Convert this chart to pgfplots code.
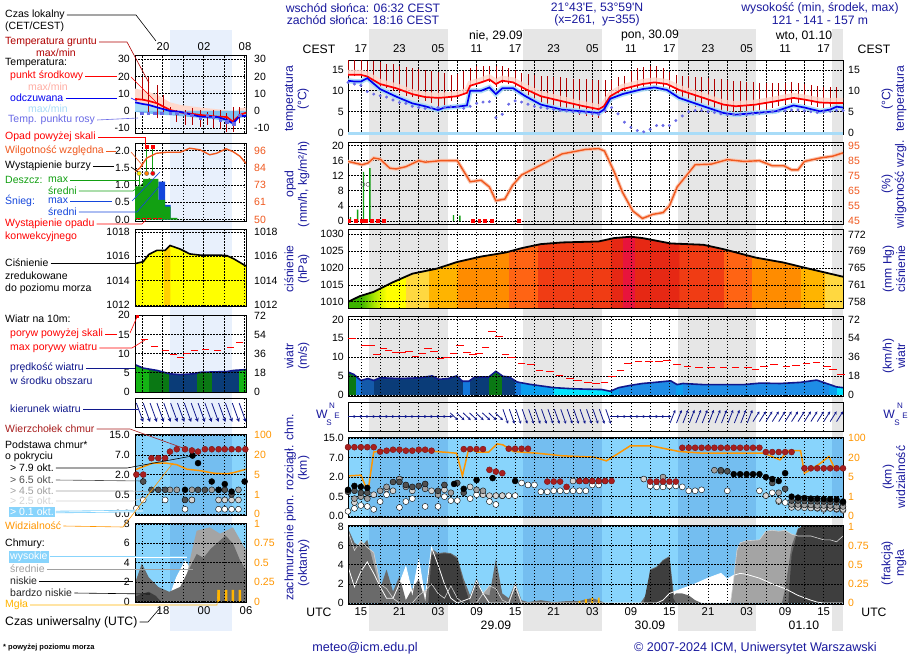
\documentclass[border=0pt]{standalone}
\usepackage{pgfplots}
\pgfplotsset{compat=1.18}
\usepackage{pgfplotstable}
\usepackage{fontspec}
\setmainfont{Liberation Sans}
\usetikzlibrary{arrows.meta}
\newcommand\fs{\fontsize{10.5}{12}\selectfont}
\newcommand\ft{\fontsize{12.2}{13.5}\selectfont}
\newcommand\fn{\fontsize{11.3}{13}\selectfont}

\definecolor{ttl}{HTML}{1A1A9E}
\definecolor{gtred}{HTML}{B00000}
\definecolor{tred}{HTML}{FF0000}
\definecolor{tblue}{HTML}{0000F0}
\definecolor{tpink}{HTML}{FFD8CC}
\definecolor{tlb}{HTML}{A8DCF8}
\definecolor{tlb2}{HTML}{7CC0F0}
\definecolor{dewc}{HTML}{6A6AE6}
\definecolor{rhc}{HTML}{F0581E}
\definecolor{rainc}{HTML}{12A012}
\definecolor{snowc}{HTML}{1446DC}
\definecolor{navy}{HTML}{10188C}
\definecolor{topc}{HTML}{A81E1E}
\definecolor{visc}{HTML}{FF9600}
\definecolor{fogc}{HTML}{FFB400}
\definecolor{skyd}{HTML}{88D4FC}
\definecolor{skyn}{HTML}{74BEF0}
\definecolor{nightg}{HTML}{E6E6E6}
\definecolor{lband}{HTML}{E8F0FC}
\definecolor{c2}{HTML}{505050}
\definecolor{c3}{HTML}{A0A0A0}
\definecolor{c4}{HTML}{D4D4D4}
\definecolor{cvl}{HTML}{3E3E3E}
\definecolor{clo}{HTML}{6A6A6A}
\definecolor{cmi}{HTML}{A4A4A4}
\definecolor{pg1}{HTML}{3CB400}
\definecolor{pg2}{HTML}{A8E600}
\definecolor{pg3}{HTML}{FFFF00}
\definecolor{pg4}{HTML}{FFD840}
\definecolor{pg5}{HTML}{FFB400}
\definecolor{pg6}{HTML}{FF8C00}
\definecolor{pg7}{HTML}{FF6414}
\definecolor{pg8}{HTML}{F03C14}
\definecolor{pg9}{HTML}{E62814}
\definecolor{pg10}{HTML}{E8143C}
\definecolor{lpo}{HTML}{FFD000}
\definecolor{wg}{HTML}{0A7814}
\definecolor{wb}{HTML}{1478DC}
\definecolor{wm}{HTML}{145AAA}
\definecolor{wn}{HTML}{0A3C78}
\definecolor{wl}{HTML}{0AA0F0}
\definecolor{wc}{HTML}{00E4FF}
\definecolor{wb2}{HTML}{1E8CE6}
\definecolor{lg1}{HTML}{14B414}

\pgfdeclarehorizontalshading{pshade}{100bp}{color(0bp)=(pg1); color(26.3bp)=(pg1); color(27.6bp)=(pg2); color(28.9bp)=(pg3);
color(30.8bp)=(pg3); color(30.85bp)=(pg4); color(33.1bp)=(pg4); color(33.15bp)=(pg5);
color(36bp)=(pg5); color(36.05bp)=(pg6); color(41.2bp)=(pg6); color(41.25bp)=(pg7);
color(44.1bp)=(pg7); color(44.15bp)=(pg8); color(51.5bp)=(pg8); color(51.55bp)=(pg9);
color(52.7bp)=(pg9); color(52.75bp)=(pg10); color(53.9bp)=(pg10); color(53.95bp)=(pg9);
color(58.4bp)=(pg9); color(58.45bp)=(pg8); color(62.9bp)=(pg8); color(62.95bp)=(pg7);
color(65.75bp)=(pg7); color(65.8bp)=(pg6); color(70.7bp)=(pg6); color(70.75bp)=(pg5);
color(73.1bp)=(pg5); color(73.15bp)=(pg4); color(100bp)=(pg4)}
\pgfdeclarehorizontalshading{wshade}{100bp}{color(0bp)=(wg); color(25.71bp)=(wg);
color(25.72bp)=(wb); color(26.3bp)=(wb); color(26.31bp)=(wm); color(27.6bp)=(wm);
color(27.61bp)=(wn); color(36.55bp)=(wn); color(36.56bp)=(wb); color(37.27bp)=(wb);
color(37.28bp)=(wn); color(39.15bp)=(wn); color(39.16bp)=(wg); color(40.51bp)=(wg);
color(40.52bp)=(wn); color(41.81bp)=(wn); color(41.82bp)=(wb); color(42.39bp)=(wb);
color(42.4bp)=(wl); color(45.77bp)=(wl); color(45.78bp)=(wc); color(51.48bp)=(wc);
color(51.49bp)=(wl); color(52.32bp)=(wl); color(52.33bp)=(wb2); color(58.1bp)=(wb2);
color(58.11bp)=(wl); color(58.75bp)=(wl); color(58.76bp)=(wb2); color(73.55bp)=(wb2);
color(73.56bp)=(wl); color(74.33bp)=(wl); color(74.34bp)=(wc); color(100bp)=(wc)}
\pgfdeclarehorizontalshading{lpshade}{100bp}{color(0bp)=(pg3); color(37.9bp)=(pg3); color(38bp)=(lpo); color(40.7bp)=(lpo); color(40.8bp)=(pg3); color(100bp)=(pg3)}
\pgfdeclarehorizontalshading{lwshade}{100bp}{color(0bp)=(lg1); color(31.17bp)=(lg1); color(31.2bp)=(wg); color(40.1bp)=(wg); color(40.15bp)=(wn); color(52.78bp)=(wn); color(52.8bp)=(wg); color(59.57bp)=(wg); color(59.6bp)=(wn); color(71.6bp)=(wn); color(71.65bp)=(lg1); color(100bp)=(lg1)}

\pgfplotsset{
  /pgf/number format/assume math mode=true,
  /pgf/number format/1000 sep={},
  bs/.style={scale only axis, anchor=north west, major tick length=0pt,
     grid style={black, line width=0.55pt, dash pattern=on 1.5pt off 1.5pt},
     xticklabels={}, xtick={0,3,...,72}},
  mp/.style={bs, width=495pt, xmin=-2, xmax=75, xmajorgrids, ymajorgrids,
     axis line style={black, line width=1pt},
     yticklabel style={font=\fs, inner sep=0pt, xshift=-4pt}},
  rp/.style={bs, width=495pt, xmin=-2, xmax=75, axis x line=none, axis y line*=right,
     axis line style={draw=none}, yticklabel style={font=\fs, inner sep=0pt, xshift=5pt}},
  lp/.style={bs, width=111pt, xmin=14, xmax=30.2, xtick={15,18,...,30}, xmajorgrids, ymajorgrids,
     axis line style={black, line width=0.8pt},
     yticklabel style={font=\fs, inner sep=0pt, xshift=-5pt}},
  lrp/.style={bs, width=111pt, xmin=14, xmax=30.2, axis x line=none, axis y line*=right,
     axis line style={draw=none}, yticklabel style={font=\fs, inner sep=0pt, xshift=8pt}},
}

% ---------------- main data ----------------
\pgfplotstableread{
h mid feel
-2 13.8 12.4
-1 13.8 12.2
0 13.8 12.2
1 13.4 13.0
3 11.6 10.4
5.5 10.6 8.6
8 9.2 7.0
10 8.5 6.3
12 8.3 5.4
13 8.4 6.0
15 8.7 6.2
16.5 9.5 6.5
17 11.2 10.0
18.7 12.0 10.0
20 12.7 10.8
21 11.6 9.2
22 12.4 10.6
23.7 12.0 10.6
25.6 10.4 8.7
28 8.7 6.7
31.3 7.5 5.5
34.4 6.4 5.1
37 5.6 4.7
37.8 6.3 5.5
38.8 8.7 8.1
40.7 10.4 9.2
43.8 11.6 10.4
45.7 12.0 10.8
47.6 11.6 10.2
49.5 10.2 8.3
53.3 8.3 6.3
56.4 6.7 4.7
58.3 6.3 4.3
61.4 6.7 4.7
64.5 7.5 5.1
67.3 8.3 6.5
69 7.9 6.0
71.4 7.2 5.1
73 7.1 5.5
74 7.1 6.2
75 7.1 6.0
}\tdata
\pgfplotstableread{
h lo hi
-2 13.5 17.4
-1 13.5 17.4
0 13.5 17.3
1 13.0 17.2
2 12.0 17.0
3 11.2 16.8
4 10.6 16.5
5 10.0 16.3
6 9.4 16.0
7 8.8 15.7
8 8.4 15.4
9 8.0 15.2
10 7.6 15.0
11 7.2 14.8
12 5.2 14.5
13 5.8 14.3
14 7.5 13.8
15 8.5 14.0
16 9.0 14.8
17 11.0 15.5
18 11.5 15.8
19 12.0 16.0
20 12.2 16.0
21 11.0 15.8
22 11.8 15.8
23 11.5 15.5
24 11.0 15.0
25 9.5 14.2
26 8.5 14.0
27 7.8 13.8
28 7.0 13.6
29 6.5 13.5
30 6.0 13.4
31 5.5 13.2
32 5.0 13.0
33 4.6 12.9
34 4.3 12.8
35 4.0 12.7
36 3.8 12.6
37 3.5 12.5
38 4.8 12.5
39 7.5 12.5
40 9.0 13.2
41 9.5 13.5
42 10.0 14.8
43 10.5 15.4
44 10.5 15.6
45 10.6 15.8
46 10.5 16.0
47 10.2 15.4
48 9.5 14.5
49 8.5 13.8
50 7.5 13.6
51 6.8 13.5
52 6.2 13.4
53 5.7 13.2
54 5.2 13.0
55 4.8 12.8
56 4.5 12.7
57 4.2 12.5
58 4.0 12.4
59 4.0 12.3
60 4.0 12.2
61 4.2 12.0
62 4.8 11.9
63 5.5 11.8
64 6.0 11.8
65 6.3 11.8
66 6.8 11.9
67 7.2 12.0
68 7.0 11.8
69 6.8 11.5
70 6.5 11.3
71 6.2 11.2
72 5.8 11.0
73 5.5 11.0
74 5.6 11.0
}\gtdata
\pgfplotstableread{
h td
-2 12.0
-1 11.6
0 11.3
1 9.8
2 9.2
3 8.8
4 8.5
5 7.8
6 7.2
7 7.0
8 6.3
9 6.0
10 5.8
11 6.0
12 6.0
13 6.0
14 6.2
15 6.2
16 5.8
17 6.3
18 7.0
19 7.3
20 7.4
21 3.6
22 4.4
23 6.8
24 7.6
25 7.3
26 6.8
27 6.3
28 6.0
29 5.8
30 5.6
31 5.3
32 5.2
33 5.0
34 4.8
35 4.8
36 4.5
37 4.4
38 5.2
39 6.0
40 4.5
41 2.5
42 1.3
43 0.5
44 0.2
45 0.8
46 1.7
47 1.7
48 1.7
49 2.9
50 4.0
51 5.0
52 5.3
53 5.3
54 5.0
55 4.8
56 4.5
57 4.3
58 4.3
59 4.3
60 4.3
61 4.5
62 4.6
63 4.8
64 5.0
65 5.2
66 5.2
67 5.4
68 5.4
69 5.2
70 5.0
71 4.8
72 5.0
73 5.1
74 5.3
75 5.3
}\dpdata
\pgfplotstableread{
h rh
-2 84.5
0.2 82.3
1.1 83.4
2 86.8
3 86
4.5 80
5.5 79.5
7 81
9 85
10 84
12.4 85
15 85
17 71
18.7 72
20 67.5
21 58.4
22.4 59.5
23.6 68.6
25 75.5
27.5 81
31.3 89.5
35 92.5
37 93
37.9 91.4
39.4 77.7
40.7 64
42.3 51.6
43.8 46.6
45.4 49.3
47 50.5
48 55
49.2 67.5
52 82.3
54.5 82.7
57 85.7
59.6 84.5
62 85
64 81.6
65.8 81.6
67 78.9
68 78.9
69 84.5
71.5 86.8
73.4 88
75 90.2
}\rhdata
\pgfplotstableread{
h p
-1.6 1.0
-0.5 3.0
0.4 13
1.4 14
14.4 1.5
15.4 1.4
}\precip
\pgfplotstableread{
h c
-1.8 0
-0.8 0
0.1 0
0.8 0
1.7 0
2.6 0
3.6 0
17.4 0
18.4 0
19.3 0
20.4 0
24.5 0
}\convdata
\pgfplotstableread{
h p
-2 1009.9
-0.2 1011.6
2 1012.9
4.8 1015.6
8 1018.3
11.8 1019.8
15 1021.8
18.7 1023.4
22.5 1024.6
25 1025.9
28 1027.1
31.3 1027.6
37 1027.9
39.4 1028.9
42 1029.3
43.8 1028.9
48.2 1027.3
53.3 1026.9
56.4 1025.6
61.4 1023.1
65.8 1021.6
69 1020.1
75 1017.4
}\pdata
\pgfplotstableread{
h v
-2 6.1
-1.1 5.5
0 3.9
1.1 4.4
2 3.9
3 4.6
6.1 4.4
9.2 4.6
11.1 5.1
12.1 4.2
13.6 4.4
14.9 5.1
15.8 3.7
16.8 3.7
17.7 4.8
19.9 4.8
21 6.3
22.1 5.0
23.1 4.8
24.3 3.5
26.2 2.9
30 2.0
32.5 1.75
35 1.6
37.5 1.5
38.8 1.05
40.1 2.0
41.9 2.6
43.8 3.1
46.4 3.5
48.2 3.8
49.2 2.8
50.1 3.1
53.3 2.8
56.4 2.8
59.6 2.8
62.1 3.2
65.2 3.1
68.4 3.4
70.9 4.0
72.8 2.9
74 2.2
75 2.0
}\wdata
\pgfplotstableread{
h g
-1.4 14.9
0.6 13.2
1.6 13.2
2.5 10.8
3.5 12.3
4.3 11.7
5.5 11.3
6.4 11.3
7.5 11.5
8.5 10.3
9.6 11.0
10.4 12.3
11.4 11.5
12.4 9.7
13.3 9.9
14.4 10.9
15.4 13.0
16.5 11.3
17.4 10.8
18.4 11.0
19.4 12.5
20.4 16.7
21.5 15.6
22.5 10.8
23.5 10.0
25 8.3
26.5 8.0
27.8 6.6
29.4 6.2
30.9 5.2
32.5 4.4
33.8 4.0
35.3 3.4
36.6 3.0
37.9 3.4
39.1 5.0
40.4 6.5
41.6 8.4
43.2 8.9
44.8 8.9
46.4 8.9
47.6 9.2
49.2 8.2
50.8 7.7
52.6 7.4
54.5 7.2
56.4 7.4
58.3 7.4
60.2 7.2
61.4 6.9
62.7 7.5
64.3 8.0
66.2 7.6
67.7 7.8
69.3 8.4
70.9 8.7
72.5 7.6
73.4 6.9
74.7 5.5
}\gust
\pgfplotstableread{
x y u v
-2.3 0 1.6 0
-1.3 0 1.6 0
-0.3 0 1.6 0
0.7 0 1.6 0
1.7 0 1.6 0
2.7 0 1.6 0
3.7 0 1.6 0
4.7 0 1.6 0
5.7 0 1.6 0
6.7 0 1.6 0
7.7 0 1.6 0
8.7 0 1.6 0
9.7 0 1.6 0
10.7 0 1.6 0
11.7 0 1.6 0
12.7 0 1.6 0
13.9 0.25 1.2 -0.5
14.9 0.25 1.2 -0.5
15.9 0.25 1.2 -0.5
16.9 0.25 1.2 -0.5
17.9 0.25 1.2 -0.5
18.9 0.25 1.2 -0.5
19.9 0.25 1.2 -0.5
20.9 0.25 1.2 -0.5
22.1 0.5 0.8 -1.0
23.1 0.5 0.8 -1.0
24.1 0.5 0.8 -1.0
25.1 0.5 0.8 -1.0
26.1 0.5 0.8 -1.0
27.1 0.5 0.8 -1.0
28.1 0.5 0.8 -1.0
29.1 0.5 0.8 -1.0
30.1 0.5 0.8 -1.0
31.1 0.5 0.8 -1.0
32.1 0.5 0.8 -1.0
33.1 0.5 0.8 -1.0
34.1 0.5 0.8 -1.0
35.1 0.5 0.8 -1.0
36.1 0.5 0.8 -1.0
37.1 0.5 0.8 -1.0
38.1 0.5 0.8 -1.0
38.7 0 1.6 0
39.7 0 1.6 0
40.7 0 1.6 0
41.7 0 1.6 0
42.7 0 1.6 0
43.7 0 1.6 0
44.7 0 1.6 0
45.7 0 1.6 0
46.7 0 1.6 0
48.1 -0.45 0.8 0.9
49.1 -0.45 0.8 0.9
50.1 -0.45 0.8 0.9
51.1 -0.45 0.8 0.9
52.1 -0.45 0.8 0.9
53.1 -0.45 0.8 0.9
54.1 -0.45 0.8 0.9
55.1 -0.45 0.8 0.9
56.1 -0.45 0.8 0.9
57.1 -0.45 0.8 0.9
58.1 -0.45 0.8 0.9
59.1 -0.45 0.8 0.9
60.1 -0.45 0.8 0.9
61.0 -0.35 1.0 0.7
62.0 -0.35 1.0 0.7
63.0 -0.35 1.0 0.7
64.0 -0.35 1.0 0.7
65.0 -0.35 1.0 0.7
66.0 -0.35 1.0 0.7
67.0 -0.35 1.0 0.7
68.0 -0.35 1.0 0.7
69.0 -0.35 1.0 0.7
70.0 -0.35 1.0 0.7
71.0 -0.35 1.0 0.7
72.0 -0.35 1.0 0.7
73.0 -0.35 1.0 0.7
74.0 -0.35 1.0 0.7
}\dirdata
% cloud panel (levels 0..4 = 0, 0.5, 2, 7, 15 km; visibility 0..4 = 0, 1, 5, 20, 100 km)
\pgfplotstableread{
h L
-2 3.53
-1 3.53
0 3.53
1 3.53
2 3.53
3 3.3
4 3.35
5 3.4
6 3.4
7 3.35
8 3.35
9 3.4
10 3.4
11 3.35
16 3.43
17 3.43
18 3.43
19 3.43
20 2.37
21 2.28
22 2.2
23 3.45
24 3.45
25 3.45
26 3.45
29 1.77
30 1.77
31 1.77
32 1.5
34 1.8
35 1.8
36 1.8
37 1.8
38 1.8
39 1.8
45 1.77
46 1.77
47 1.77
48 1.77
49 1.77
50 3.5
51 3.5
52 3.5
53 3.5
54 3.5
55 3.5
56 3.5
57 3.5
58 3.5
59 3.5
60 3.5
61 3.5
62 3.5
63 3.28
64 3.28
65 3.28
66 3.28
67 3.28
69 2.45
70 2.45
71 2.45
72 2.45
73 2.45
74 2.45
75 2.45
}\topdata
\pgfplotstableread{
h L
-2 2.06
0 2.1
1.1 1.25
2 3.28
3.6 3.36
6.1 3.4
9.9 3.35
13.6 3.26
14.9 3.22
15.8 2.06
16.8 3.48
18.1 3.28
19.9 3.28
21.2 3.7
22.1 3.65
23.7 3.31
27.5 3.22
31.3 3.09
36.3 3.02
38.2 2.83
40.1 3.22
41.9 3.6
45.1 3.6
49.5 3.31
53.3 3.22
62.7 3.22
65.2 2.88
66.5 3.36
68.4 3.35
69 2.2
70.3 2.45
71.5 2.71
72.8 3.05
73.7 2.45
75 2.4
}\visdata
\pgfplotstableread{
h L
-2 1.35
-1 1.55
0 1.5
1 1.45
14.5 1.65
16 1.4
18 1.85
20.5 1.95
24 1.8
58 2.15
59 2.15
60 2.15
61 2.15
62 2.15
63 2.0
64 1.9
65 1.8
66 2.2
67 1.0
68 0.95
69 0.93
70 0.9
71 0.9
72 0.88
73 0.87
74 0.85
75 0.75
}\bblack
\pgfplotstableread{
h L
-2 1.25
-1 1.3
0 1.2
1 1.2
5 1.75
6 1.75
7 1.6
8 1.5
9 1.55
10 1.65
12 1.3
13 1.6
15 1.7
16 1.2
56 2.35
57 2.3
64 1.7
66 1.4
67 0.8
68 0.8
69 0.78
70 0.77
71 0.76
72 0.75
73 0.74
74 0.72
75 0.7
}\bdark
\pgfplotstableread{
h L
-1 0.9
0 1.0
1 0.9
3 1.3
4 1.5
6 1.9
7 1.5
10 1.4
12 1.1
14 1.2
18 1.35
19 1.3
47 2.0
55 2.35
65 1.2
67 0.6
68 0.6
69 0.58
70 0.58
71 0.55
72 0.55
73 0.55
74 0.5
75 0.5
}\bmid
\pgfplotstableread{
h L
-1 0.7
2 1.1
4 1.4
5 1.3
8 1.3
11 1.3
13 1.35
17 1.5
19 1.1
20 1.05
21 1.05
22 1.05
33 1.8
34 1.8
35 1.8
36 1.8
37 1.8
44 1.9
56 2.3
63 1.05
65 0.8
67 0.45
68 0.45
69 0.43
70 0.42
71 0.42
72 0.4
73 0.4
74 0.38
75 0.35
}\blight
\pgfplotstableread{
h L
-2 0.25
-1 0.4
0 0.55
1 0.5
2 0.35
3 0.75
4 1.1
6 0.45
7 0.75
8 0.9
10 0.5
12 0.5
13 1.0
14 0.8
15 0.8
17 0.9
18 1.1
20 0.75
21 0.6
22 1.05
23 1.05
24 1.05
25 1.7
26 1.6
27 1.6
28 1.25
29 1.25
30 1.3
31 1.3
32 1.3
33 1.3
34 1.3
35 1.3
36 1.6
37 1.6
38 1.8
45 1.55
46 1.5
47 1.5
48 1.55
49 1.55
50 1.5
51 1.3
52 1.3
53 1.35
57 1.3
62 1.3
64 1.2
65 0.75
66 0.7
67 0.6
68 0.5
69 0.5
70 0.45
71 0.4
72 0.35
73 0.4
74 0.35
75 0.3
}\bwhite
% cloud cover (oktas)
\pgfplotstableread{
h c
-2 3.8
-1 1.7
0 3.3
1 4.3
2 3.1
3 1.7
4 0.5
5 0.5
6 2.0
7 3.8
8 1.0
9 4.5
10 0.5
11 5.8
12 4.0
13 2.0
14 0.5
15 0
17 0.5
18 2.3
19 1.0
20 0
23 0
24 1.8
25 0
46 0
47 0.3
48 1.0
50 1.5
52 2.0
54 2.6
56 3.1
57 2.5
58 2.9
59 3.1
60 3.0
62 2.6
64 2.0
66 1.5
68 0.8
70 0.3
71 0.1
72 0
75 0
}\chigh
\pgfplotstableread{
h c
-2 7.5
-1 5.5
0 6.5
1 5.8
2 5.3
3 2.0
4 1.5
5 0.5
6 0
8 0
9 0.8
10 1.3
11 2.0
12 1.0
13 0.5
14 1.8
15 0.5
16 0
18 0
19 1.0
20 1.8
21 1.5
22 0.3
23 0
24 2.0
25 0
57.5 0
58 2.5
58.5 5.5
59 6.3
60 6.5
62 6.6
63 7.5
64 7.6
65 7.5
66 7.6
67 7.2
68 7.0
70 7.0
72 6.6
73 6.6
74 6.4
75 7.0
}\cmid
\pgfplotstableread{
h c
-2 7.8
-1 6.3
0 5.8
1 6.6
2 4.0
3 1.5
4 3.5
5 1.2
6 2.8
7 0.3
8 1.5
9 2.5
10 0.3
11 5.7
12 5.2
13 5.3
14 5.2
15 4.8
16 2.5
17 0.8
18 2.6
19 1.0
20 0.8
21 4.6
22 1.0
23 0.5
24 2.1
25 0.3
26 0.1
28 0.3
30 0.1
32 0.2
34 0.2
35 0.4
36 0.5
37 0.3
38 0
43.5 0
44.5 1.0
45 3.5
46 3.8
47 4.5
48 4.9
48.7 0.8
49 1.0
50 1.0
51 0.8
52 0.3
53 0
65.5 0
66 1.5
67 6.0
68 7.8
69 8.1
75 8.1
}\clow
\pgfplotstableread{
h c
-2 0
10.5 0
11 5.0
12 5.1
13 5.2
14 5.1
15 4.6
16 2.0
17 0
44 0
45 3.4
46 3.7
47 4.4
48 4.8
48.6 0.5
49 0
66.5 0
67 5.0
68 7.7
69 8.1
75 8.1
}\cvlow
\pgfplotstableread{
h f
34 0.03
35 0.05
36 0.07
37 0.07
}\fogdata

% ---------------- legend data ----------------
\pgfplotstableread{
u mid feel pk bl
14 7.0 5.0 13.0 -0.5
15.2 6.5 4.0 12.0 -1.0
16 5.8 3.5 11.0 -1.5
17.2 4.5 2.1 9.5 -2.0
19.1 0.6 0.0 5.0 -2.5
20.6 -0.8 -0.5 3.5 -3.0
23.5 -2.3 -3.3 2.0 -4.0
26 -3.3 -3.5 1.0 -5.0
27.4 -3.5 -5.2 0.5 -6.5
28.3 -6.2 -7.2 -1.0 -8.0
29.3 -2.3 -2.9 1.5 -4.0
30.2 -1.0 -2.9 2.0 -3.5
}\ltdata
\pgfplotstableread{
u lo hi
15.0 6.4 19.9
15.9 -2.3 19.9
17.2 -4.3 15.1
18.1 -2.3 9.3
19.1 -2.3 2.5
20.1 -6.2 0.6
21.3 -8.1 0.6
22.3 -8.1 1.6
23.5 -9.1 0.6
24.5 -8.1 -0.4
25.4 -10.1 0.6
26.4 -10.5 0.6
27.4 -12.0 -1.4
28.4 -12.0 2.1
29.3 -7.2 2.1
}\lgt
\pgfplotstableread{
u td
15 -1.4
15.9 -1.4
16.9 -1.4
17.9 -1.4
19.1 -1.4
20.1 -1.4
21.3 -1.4
22.3 -2.3
23.5 -4.3
24.5 -2.3
25.4 -3.7
26.4 -5.2
27.4 -6.2
28.4 -7.5
29.3 -2.3
}\ldp
\pgfplotstableread{
u rh
14 82
14.7 84.3
15.7 91
17.1 94.2
18.6 94.9
20.6 94.9
22.0 97.6
23.5 96.5
24.9 93.2
25.9 94.2
27.3 97.2
28.3 95.3
29.3 92.3
30.2 87.5
}\lrh
\pgfplotstableread{
u p
14 1015.4
15.2 1015.56
16 1016.15
17.2 1016.5
18.4 1016.5
19.1 1016.9
20.6 1016.6
22 1016.2
23.5 1016.1
26.4 1016.1
27.4 1016.06
28.4 1015.8
30.2 1015.2
}\lpr
\pgfplotstableread{
u v
14 7.1
15.2 6.2
17.2 5.6
19.1 4.7
20.6 4.5
22.5 4.7
23.5 5.1
27.4 5.3
28.4 5.6
30.2 5.8
}\lws
\pgfplotstableread{
u g
15.35 13.6
16.85 11.8
18.4 10.7
19.6 9.7
20.7 9.0
21.5 9.9
22.7 10.8
24.3 11.0
26.0 10.7
27.9 11.6
29.3 12.8
}\lgust
\pgfplotstableread{
x y u v
14.2 0.65 1.0 -1.3
15.2 0.65 1.0 -1.3
16.2 0.65 1.0 -1.3
17.2 0.65 1.0 -1.3
18.2 0.65 1.0 -1.3
19.2 0.65 1.0 -1.3
20.2 0.65 1.0 -1.3
21.2 0.65 1.0 -1.3
22.2 0.65 1.0 -1.3
23.2 0.65 1.0 -1.3
24.2 0.65 1.0 -1.3
25.2 0.65 1.0 -1.3
26.2 0.65 1.0 -1.3
27.2 0.65 1.0 -1.3
28.2 0.65 1.0 -1.3
29.2 0.65 1.0 -1.3
}\ldir

\begin{document}
\fs
\begin{tikzpicture}
\useasboundingbox (0,0) rectangle (910pt,-660pt);
% ---------- backgrounds ----------
\begin{scope}[x=1pt,y=1pt]
\fill[white] (0,0) rectangle (910,-660);
\fill[nightg] (369,-29) rectangle (447.8,-631);
\fill[nightg] (523.3,-29) rectangle (602.1,-631);
\fill[nightg] (677.6,-29) rectangle (756.4,-631);
\fill[nightg] (831.9,-29) rectangle (843,-631);
\fill[lband] (170,-30) rectangle (232,-631);
\foreach \yt/\yb in {437/517,525/604}{
  \fill[skyd] (348,-\yt) rectangle (843,-\yb);
  \fill[skyn] (369,-\yt) rectangle (447.8,-\yb);
  \fill[skyn] (523.3,-\yt) rectangle (602.1,-\yb);
  \fill[skyn] (677.6,-\yt) rectangle (756.4,-\yb);
  \fill[skyn] (831.9,-\yt) rectangle (843,-\yb);}
\foreach \yt/\yb in {434/515,523/602}{
  \fill[skyd] (135,-\yt) rectangle (246,-\yb);
  \fill[skyn] (170,-\yt) rectangle (232,-\yb);}
\end{scope}

% ================= MAIN PANELS =================
% temperature
\begin{axis}[mp, at={(348pt,-61pt)}, height=74pt, ymin=-0.55, ymax=17.1, ytick={0,5,10,15}]
\addplot[fill=tlb, draw=none] coordinates {(-2,-0.6) (75,-0.6) (75,0.1) (-2,0.1)} -- cycle;
\addplot[draw=none, error bars/.cd, y dir=plus, y explicit, error mark=none,
  error bar style={gtred, line width=0.7pt}] table[x=h, y=lo, y error plus expr=\thisrow{hi}-\thisrow{lo}] {\gtdata};
\addplot[tpink, line width=5pt, opacity=0.8] table[x=h, y expr=\thisrow{mid}+0.6] {\tdata};
\addplot[tlb, line width=5pt, opacity=0.9] table[x=h, y=feel] {\tdata};
\addplot[tred, line width=1.7pt] table[x=h, y=mid] {\tdata};
\addplot[tblue, line width=1.7pt] table[x=h, y=feel] {\tdata};
\addplot[only marks, mark=*, mark size=1.3pt, dewc] table[x=h, y=td] {\dpdata};
\end{axis}
\begin{axis}[rp, at={(348pt,-61pt)}, height=74pt, ymin=-0.55, ymax=17.1, ytick={0,5,10,15}]
\addplot[draw=none] coordinates {(0,0)};
\end{axis}

% precipitation / humidity
\begin{axis}[mp, at={(348pt,-143pt)}, height=82pt, ymin=-1.1, ymax=20.7, ytick={0,4,...,20}]
\addplot[rhc!35, line width=3.5pt] table[x=h, y expr=(\thisrow{rh}-45)*0.4] {\rhdata};
\addplot[rhc, line width=1.4pt] table[x=h, y expr=(\thisrow{rh}-45)*0.4] {\rhdata};
\addplot[ybar, bar width=1.3pt, fill=rainc, draw=none] table[x=h, y=p] {\precip};
\addplot[only marks, mark=square*, mark size=1.4pt, red] table[x=h, y=c] {\convdata};
\addplot[only marks, mark=o, mark size=2pt, black!70] coordinates {(0.3,9.7) (1.1,9.7)};
\end{axis}
\begin{axis}[rp, at={(348pt,-143pt)}, height=82pt, ymin=-1.1, ymax=20.7, ytick={0,4,...,20},
  yticklabels={45,55,65,75,85,95}, yticklabel style={text=rhc}]
\addplot[draw=none] coordinates {(0,0)};
\end{axis}

% pressure
\begin{axis}[mp, at={(348pt,-230pt)}, height=78pt, ymin=1008.1, ymax=1031.3, ytick={1010,1015,...,1030}, axis on top]
\addplot[shade, shading=pshade, draw=none] table[x=h, y=p] {\pdata} \closedcycle;
\addplot[black, line width=1.8pt] table[x=h, y=p] {\pdata};
\end{axis}
\begin{axis}[rp, at={(348pt,-230pt)}, height=78pt, ymin=1008.1, ymax=1031.3, ytick={1010,1015,...,1030},
  yticklabels={758,761,765,769,772}]
\addplot[draw=none] coordinates {(0,1010)};
\end{axis}

% wind
\begin{axis}[mp, at={(348pt,-316pt)}, height=80pt, ymin=-0.2, ymax=20.9, ytick={0,5,...,20}, axis on top]
\addplot[shade, shading=wshade, draw=none] table[x=h, y=v] {\wdata} \closedcycle;
\addplot[navy, line width=1.6pt] table[x=h, y=v] {\wdata};
\addplot[only marks, mark=-, mark size=3.8pt, red, mark options={line width=1pt}] table[x=h, y=g] {\gust};
\end{axis}
\begin{axis}[rp, at={(348pt,-316pt)}, height=80pt, ymin=-0.2, ymax=20.9, ytick={0,5,...,20},
  yticklabels={0,18,36,54,72}]
\addplot[draw=none] coordinates {(0,0)};
\end{axis}

% wind direction
\begin{axis}[mp, at={(348pt,-402pt)}, height=29pt, ymin=-1, ymax=1, ytick=\empty, ymajorgrids=false]
\addplot[navy, line width=0.8pt, -{Stealth[length=3pt,width=3pt]}, quiver={u=\thisrow{u}, v=\thisrow{v}}] table[x=x, y=y] {\dirdata};
\end{axis}

% clouds: base/top/visibility
\begin{axis}[mp, at={(348pt,-437pt)}, height=80pt, ymin=-0.04, ymax=4.05, ytick={0,1,2,3,4},
  yticklabels={0.0,0.5,2.0,7.0,15.0}, axis on top]
\addplot[only marks, mark=*, mark size=3pt, mark options={draw=none, fill=white}] table[x=h, y=L] {\bwhite};
\addplot[only marks, mark=*, mark size=3pt, mark options={draw=none, fill=c4}] table[x=h, y=L] {\blight};
\addplot[only marks, mark=*, mark size=3pt, mark options={draw=none, fill=c3}] table[x=h, y=L] {\bmid};
\addplot[only marks, mark=*, mark size=3pt, mark options={draw=none, fill=c2}] table[x=h, y=L] {\bdark};
\addplot[only marks, mark=*, mark size=3pt, mark options={draw=none, fill=black}] table[x=h, y=L] {\bblack};
\addplot[only marks, mark=*, mark size=3pt, mark options={draw=topc!70!black, fill=topc}] table[x=h, y=L] {\topdata};
\addplot[visc, line width=1.5pt] table[x=h, y=L] {\visdata};
\end{axis}
\begin{axis}[rp, at={(348pt,-437pt)}, height=80pt, ymin=-0.04, ymax=4.05, ytick={0,1,2,3,4},
  yticklabels={0,1,5,20,100}, yticklabel style={text=visc}]
\addplot[draw=none] coordinates {(0,0)};
\end{axis}

% cloud cover
\begin{axis}[mp, at={(348pt,-525pt)}, height=79pt, ymin=-0.1, ymax=8.15, ytick={0,2,...,8}, axis on top]
\addplot[fill=white, draw=none] table[x=h, y=c] {\chigh} \closedcycle;
\addplot[fill=cmi, draw=none] table[x=h, y=c] {\cmid} \closedcycle;
\addplot[fill=clo, draw=none] table[x=h, y=c] {\clow} \closedcycle;
\addplot[fill=cvl, draw=none] table[x=h, y=c] {\cvlow} \closedcycle;
\addplot[white, line width=0.8pt] table[x=h, y=c] {\chigh};
\addplot[c4, line width=0.6pt] table[x=h, y=c] {\cmid};
\addplot[ybar, bar width=1.8pt, fill=fogc, draw=none] table[x=h, y expr=\thisrow{f}*8] {\fogdata};
\end{axis}
\begin{axis}[rp, at={(348pt,-525pt)}, height=79pt, ymin=-0.1, ymax=8.15, ytick={0,2,...,8},
  yticklabels={0,0.25,0.5,0.75,1}, yticklabel style={text=visc}]
\addplot[draw=none] coordinates {(0,0)};
\end{axis}

% ================= LEGEND PANELS =================
\begin{axis}[lp, at={(135pt,-55pt)}, height=78pt, ymin=-12.8, ymax=32.5, ytick={-10,0,...,30}]
\addplot[fill=tpink, draw=none] table[x=u, y=pk] {\ltdata} \closedcycle;
\addplot[fill=tlb, draw=none] table[x=u, y=feel] {\ltdata} \closedcycle;
\addplot[fill=tlb2, draw=none] table[x=u, y=bl] {\ltdata} \closedcycle;
\addplot[draw=none, error bars/.cd, y dir=plus, y explicit, error mark=none,
  error bar style={gtred, line width=0.7pt}] table[x=u, y=lo, y error plus expr=\thisrow{hi}-\thisrow{lo}] {\lgt};
\addplot[tred, line width=1.7pt] table[x=u, y=mid] {\ltdata};
\addplot[tblue, line width=1.7pt] table[x=u, y=feel] {\ltdata};
\addplot[only marks, mark=square*, mark size=1.2pt, dewc] table[x=u, y=td] {\ldp};
\end{axis}
\begin{axis}[lrp, at={(135pt,-55pt)}, height=78pt, ymin=-12.8, ymax=32.5, ytick={-10,0,...,30}]
\addplot[draw=none] coordinates {(15,0)};
\end{axis}

\begin{axis}[lp, at={(135pt,-143pt)}, height=78pt, ymin=-0.04, ymax=2.22, ytick={0,0.5,...,2},
  yticklabels={0.0,0.5,1.0,1.5,2.0}]
\addplot[const plot, fill=snowc, draw=none] coordinates {(17.4,1.1) (18.4,0.43) (19.2,0) (20,0)} \closedcycle;
\addplot[const plot, fill=rainc, draw=none] coordinates {(14,0.96) (15.2,1.18) (17.4,0.57) (18.4,0.38) (19.2,0.05) (20.2,0) (21,0)} \closedcycle;
\addplot[rainc, line width=0.8pt] coordinates {(15.7,1.34) (15.7,2.12)};
\addplot[rainc, line width=0.8pt] coordinates {(16.6,1.34) (16.6,2.12)};
\addplot[rainc, line width=0.8pt] coordinates {(14.6,1.34) (14.6,0.96)};
\addplot[rhc, line width=1.4pt] table[x=u, y expr=(\thisrow{rh}-50)/23] {\lrh};
\addplot[only marks, mark=square*, mark size=1.4pt, red] coordinates {(15.7,2.12) (16.6,2.12)};
\addplot[only marks, mark=-, mark size=2pt, red, mark options={line width=1pt}] coordinates {(14.5,0.02) (15.3,0.02) (16.1,0.02) (16.9,0.02) (17.7,0.02)};
\addplot[only marks, mark=*, mark size=2.2pt, mark options={draw=black!60, fill=yellow}] coordinates {(14.6,1.34)};
\addplot[only marks, mark=*, mark size=2.2pt, mark options={draw=black!60, fill=orange}] coordinates {(15.7,1.34)};
\addplot[only marks, mark=*, mark size=2.2pt, mark options={draw=black!60, fill=red}] coordinates {(16.6,1.34)};
\end{axis}
\begin{axis}[lrp, at={(135pt,-143pt)}, height=78pt, ymin=-0.04, ymax=2.22, ytick={0,0.5,...,2},
  yticklabels={50,61,73,84,96}, yticklabel style={text=rhc}]
\addplot[draw=none] coordinates {(15,0)};
\end{axis}

\begin{axis}[lp, at={(135pt,-229pt)}, height=77pt, ymin=1011.9, ymax=1018.26, ytick={1012,1014,1016,1018}, axis on top]
\addplot[shade, shading=lpshade, draw=none] table[x=u, y=p] {\lpr} \closedcycle;
\addplot[black, line width=1.6pt] table[x=u, y=p] {\lpr};
\end{axis}
\begin{axis}[lrp, at={(135pt,-229pt)}, height=77pt, ymin=1011.9, ymax=1018.26, ytick={1012,1014,1016,1018}]
\addplot[draw=none] coordinates {(15,1014)};
\end{axis}

\begin{axis}[lp, at={(135pt,-315pt)}, height=77pt, ymin=-0.05, ymax=20.1, ytick={0,5,...,20}, axis on top]
\addplot[shade, shading=lwshade, draw=none] table[x=u, y=v] {\lws} \closedcycle;
\addplot[navy, line width=1.6pt] table[x=u, y=v] {\lws};
\addplot[only marks, mark=-, mark size=3.5pt, red, mark options={line width=1pt}] table[x=u, y=g] {\lgust};
\addplot[only marks, mark=square*, mark size=1.2pt, red] coordinates {(14.3,19.8)};
\end{axis}
\begin{axis}[lrp, at={(135pt,-315pt)}, height=77pt, ymin=-0.05, ymax=20.1, ytick={0,5,...,20},
  yticklabels={0,18,36,54,72}]
\addplot[draw=none] coordinates {(15,0)};
\end{axis}

\begin{axis}[lp, at={(135pt,-398pt)}, height=29pt, ymin=-1, ymax=1, ytick=\empty, ymajorgrids=false]
\addplot[navy, line width=0.8pt, -{Stealth[length=4pt,width=4pt]}, quiver={u=\thisrow{u}, v=\thisrow{v}}] table[x=x, y=y] {\ldir};
\end{axis}

\begin{axis}[lp, at={(135pt,-434pt)}, height=81pt, ymin=-0.04, ymax=4.05, ytick={0,1,2,3,4},
  yticklabels={0.0,0.5,2.0,7.0,15.0}, axis on top]
\addplot[only marks, mark=*, mark size=3pt, mark options={draw=none, fill=white}] coordinates {(14.2,0.3) (15.2,0.72) (18.4,0.72) (21.3,0.25) (22.3,0.72) (26.2,0.25) (27.1,0.25) (28.1,0.25) (29.1,0.25)};
\addplot[only marks, mark=*, mark size=3pt, mark options={draw=none, fill=c4}] coordinates {(22.3,0.72) (26.2,0.72) (27.1,0.72) (28.1,0.72) (29.1,0.72)};
\addplot[only marks, mark=*, mark size=3pt, mark options={draw=none, fill=c3}] coordinates {(19.1,1.23) (20.1,1.23) (22.3,1.23) (25.2,1.23) (29.1,1.23)};
\addplot[only marks, mark=*, mark size=3pt, mark options={draw=none, fill=c2}] coordinates {(15.2,1.65) (16.4,1.23) (17.4,1.23) (18.4,1.23) (21.3,0.72) (23.2,1.23) (24.2,1.23) (26.2,1.23) (27.1,1.23) (28.1,1.0)};
\addplot[only marks, mark=*, mark size=3pt, mark options={draw=none, fill=black}] coordinates {(22.4,2.96) (23.2,2.58) (21.3,1.23) (25.2,1.65) (26.2,1.23) (27.1,1.52) (28.1,1.14) (30.0,1.65)};
\addplot[only marks, mark=*, mark size=3pt, mark options={draw=topc!70!black, fill=topc}] coordinates {(14.2,2.0) (15.2,2.0) (16.4,2.83) (17.4,2.83) (18.4,2.83) (19.1,3.16) (20.1,3.28) (21.3,3.28) (22.3,3.22) (23.2,3.16) (24.2,3.28) (25.2,3.28) (26.2,3.28) (27.1,3.28) (28.1,3.28) (29.1,3.28) (30.1,3.28)};
\addplot[visc, line width=1.5pt] coordinates {(14,2.24) (15.2,2.4) (16.6,2.58) (18.6,2.58) (20.1,2.5) (21.6,2.27) (23.5,2.2) (25.5,2.07) (27.4,2.04) (28.4,2.1) (30.2,2.27)};
\end{axis}
\begin{axis}[lrp, at={(135pt,-434pt)}, height=81pt, ymin=-0.04, ymax=4.05, ytick={0,1,2,3,4},
  yticklabels={0,1,5,20,100}, yticklabel style={text=visc}]
\addplot[draw=none] coordinates {(15,0)};
\end{axis}

\begin{axis}[lp, at={(135pt,-523pt)}, height=79pt, ymin=-0.05, ymax=8.1, ytick={0,2,...,8}, axis on top]
\addplot[fill=white, draw=none] coordinates {(14,0) (19,0.5) (20,2.5) (21.3,4.25) (22,3.5) (22.5,1) (23,0) (30.2,0)} \closedcycle;
\addplot[fill=cmi, draw=none] coordinates {(14,0.9) (15.5,1.5) (17,1.0) (18.5,0.8) (20.6,1.5) (21.5,2.5) (22.2,4.9) (23,7.3) (24.9,7.65) (26.4,7.0) (28.3,7.65) (30.2,5.3)} \closedcycle;
\addplot[fill=clo, draw=none] coordinates {(14,1.9) (15.0,3.9) (16.0,2.5) (17.4,1.5) (19.0,1.0) (20.6,1.5) (23.0,4.9) (24.0,4.5) (25.0,5.4) (27.2,6.8) (28.3,6.0) (29.3,4.3) (30.2,3.2)} \closedcycle;
\addplot[fill=cvl, draw=none] coordinates {(14,0.5) (15,0.8) (16,1.0) (17,0.6) (17.8,0) (30.2,0)} \closedcycle;
\addplot[ybar, bar width=2.5pt, fill=fogc, draw=none] coordinates {(26.2,1.2) (27.3,1.2) (28.3,1.2) (29.3,1.2)};
\end{axis}
\begin{axis}[lrp, at={(135pt,-523pt)}, height=79pt, ymin=-0.05, ymax=8.1, ytick={0,2,...,8},
  yticklabels={0,0.25,0.5,0.75,1}, yticklabel style={text=visc}]
\addplot[draw=none] coordinates {(15,0)};
\end{axis}

% ================= TEXT =================
\begin{scope}[x=1pt,y=1pt, every node/.style={font=\fs, inner sep=0pt}]
% header
\begin{scope}[every node/.append style={font=\ft}]
\node[text=ttl] at (363,-8) {wschód słońca: 06:32 CEST};
\node[text=ttl] at (363,-20) {zachód słońca: 18:16 CEST};
\node[text=ttl] at (597,-8) {21°43\textquotesingle E, 53°59\textquotesingle N};
\node[text=ttl] at (597,-20) {(x=261, \ y=355)};
\node[text=ttl] at (820,-8) {wysokość (min, środek, max)};
\node[text=ttl] at (820,-20) {121 - 141 - 157 m};
\node at (496,-36) {nie, 29.09};
\node at (650,-36) {pon, 30.09};
\node at (804,-36) {wto, 01.10};
\node at (319,-49) {CEST};
\node at (874,-49) {CEST};
\node at (319,-612) {UTC};
\node at (874,-612) {UTC};
\node at (496,-625) {29.09};
\node at (650,-625) {30.09};
\node at (804,-625) {01.10};
% axis titles
\node[text=ttl, rotate=90, align=center] at (297,-99) {temperatura\\(°C)};
\node[text=ttl, rotate=90, align=center] at (894,-99) {(°C)\\temperatura};
\node[text=ttl, rotate=90, align=center] at (297,-184) {opad\\(mm/h, kg/m²/h)};
\node[text=ttl, rotate=90, align=center] at (894,-184) {(\%)\\wilgotność wzgl.};
\node[text=ttl, rotate=90, align=center] at (297,-269) {ciśnienie\\(hPa)};
\node[text=ttl, rotate=90, align=center] at (894,-269) {(mm Hg)\\ciśnienie};
\node[text=ttl, rotate=90, align=center] at (297,-356) {wiatr\\(m/s)};
\node[text=ttl, rotate=90, align=center] at (894,-356) {(km/h)\\wiatr};
\node[text=ttl, rotate=90, align=center] at (297,-468) {pion. rozciągł. chm.\\(km)};
\node[text=ttl, rotate=90, align=center] at (894,-477) {(km)\\widzialność};
\node[text=ttl, rotate=90, align=center] at (297,-563) {zachmurzenie\\(oktanty)};
\node[text=ttl, rotate=90, align=center] at (894,-563) {(frakcja)\\mgła};
\node[text=ttl, font=\fontsize{12.6}{14}\selectfont] at (365,-648) {meteo@icm.edu.pl};
\node[text=ttl, anchor=east, font=\fontsize{12.6}{14}\selectfont] at (877,-648) {© 2007-2024 ICM, Uniwersytet Warszawski};
\node[anchor=west] (a31) at (5,-622) {Czas uniwersalny (UTC)};
\end{scope}
\begin{scope}[every node/.append style={font=\fn}]
\foreach \h/\l in {0/17,6/23,12/05,18/11,24/17,30/23,36/05,42/11,48/17,54/23,60/05,66/11,72/17}
  \node at ({348+(\h+2)*6.4286},-49) {\l};
\foreach \h/\l in {0/15,6/21,12/03,18/09,24/15,30/21,36/03,42/09,48/15,54/21,60/03,66/09,72/15}
  \node at ({348+(\h+2)*6.4286},-612) {\l};
\node at (163,-47) {20}; \node at (204,-47) {02}; \node at (245,-47) {08};
\node at (163,-611) {18}; \node at (204,-611) {00}; \node at (246,-611) {06};
\end{scope}
% compass
\node[text=ttl, font=\ft] at (322,-414) {W};
\node[text=ttl, font=\fontsize{8}{9}\selectfont] at (332,-406) {N};
\node[text=ttl, font=\fontsize{8}{9}\selectfont] at (329,-423) {S};
\node[text=ttl, font=\fontsize{8}{9}\selectfont] at (337,-416) {E};
\node[text=ttl, font=\ft] at (889,-414) {W};
\node[text=ttl, font=\fontsize{8}{9}\selectfont] at (900,-406) {N};
\node[text=ttl, font=\fontsize{8}{9}\selectfont] at (897,-423) {S};
\node[text=ttl, font=\fontsize{8}{9}\selectfont] at (905,-416) {E};

% legend texts
\node[anchor=west] (a1) at (5,-15) {Czas lokalny};
\node[anchor=west] at (5,-27) {(CET/CEST)};
\node[anchor=west, text=gtred] (a2) at (5,-42) {Temperatura gruntu};
\node[text=gtred] at (56,-53) {max/min};
\node[anchor=west] at (5,-63) {Temperatura:};
\node[anchor=west, text=tred] (a3) at (10,-76) {punkt środkowy};
\node[text=tpink!80!red] at (48,-87) {max/min};
\node[anchor=west, text=tblue] (a4) at (10,-98) {odczuwana};
\node[text=tlb] at (48,-109) {max/min};
\node[anchor=west, text=dewc] (a5) at (8,-120) {Temp. punktu rosy};
\node[anchor=west, text=red] (a6) at (5,-137) {Opad powyżej skali};
\node[anchor=west, text=rhc] (a7) at (5,-151) {Wilgotność względna};
\node[anchor=west] (a8) at (5,-166) {Wystąpienie burzy};
\node[anchor=west, text=rainc] at (5,-180) {Deszcz:};
\node[anchor=west, text=rainc] (a9) at (48,-180) {max};
\node[anchor=west, text=rainc] (a10) at (48,-191) {średni};
\node[anchor=west, text=snowc] at (5,-201) {Śnieg:};
\node[anchor=west, text=snowc] (a11) at (48,-201) {max};
\node[anchor=west, text=snowc] (a12) at (48,-212) {średni};
\node[anchor=west, text=red] (a13) at (5,-224) {Wystąpienie opadu};
\node[anchor=west, text=red] at (5,-237) {konwekcyjnego};
\node[anchor=west] (a14) at (5,-263) {Ciśnienie};
\node[anchor=west] at (5,-276) {zredukowane};
\node[anchor=west] at (5,-289) {do poziomu morza};
\node[anchor=west] at (5,-319) {Wiatr na 10m:};
\node[anchor=west, text=red] (a15) at (10,-334) {poryw powyżej skali};
\node[anchor=west, text=red] (a16) at (10,-348) {max porywy wiatru};
\node[anchor=west, text=navy] (a17) at (10,-368) {prędkość wiatru};
\node[anchor=west, text=navy] at (10,-381) {w środku obszaru};
\node[anchor=west, text=navy] (a18) at (10,-409) {kierunek wiatru};
\node[anchor=west, text=topc] (a19) at (5,-429) {Wierzchołek chmur};
\node[anchor=west] at (5,-445) {Podstawa chmur*};
\node[anchor=west] at (5,-457) {o pokryciu};
\node[anchor=west] (a20) at (10,-468) {> 7.9 okt.};
\node[anchor=west, text=c2] (a21) at (10,-480) {> 6.5 okt.};
\node[anchor=west, text=c3] (a22) at (10,-491) {> 4.5 okt.};
\node[anchor=west, text=c4] (a23) at (10,-501) {> 2.5 okt.};
\node[anchor=west, text=white, fill=skyd, inner sep=1pt] (a24) at (9,-512) {> 0.1 okt.};
\node[anchor=west, text=visc] (a25) at (5,-526) {Widzialność};
\node[anchor=west] at (5,-544) {Chmury:};
\node[anchor=west, text=white, fill=skyd, inner sep=1pt] (a26) at (9,-557) {wysokie};
\node[anchor=west, text=c3] (a27) at (10,-569) {średnie};
\node[anchor=west, text=black!85] (a28) at (10,-581) {niskie};
\node[anchor=west, text=black!85] (a29) at (10,-593) {bardzo niskie};
\node[anchor=west, text=fogc] (a30) at (5,-605) {Mgła};
\node[anchor=west, font=\fontsize{7.5}{9}\selectfont\bfseries] at (3,-648) {* powyżej poziomu morza};

% leader lines
\begin{scope}[line width=0.6pt]
\draw ([xshift=2pt]a1.east) -- (136,-15) -- (156,-41);
\draw[gtred] ([xshift=2pt]a2.east) -- (127,-42) -- (149,-83);
\draw[tred] ([xshift=2pt]a3.east) -- (117,-76); \draw[tred] (131,-77) -- (156,-102);
\draw[tblue] ([xshift=2pt]a4.east) -- (117,-98); \draw[tblue] (131,-98) -- (137,-101);
\draw[dewc] ([xshift=2pt]a5.east) -- (138,-118);
\draw[red] ([xshift=2pt]a6.east) -- (145,-137) -- (145,-146);
\draw[rhc] ([xshift=2pt]a7.east) -- (116,-151); \draw[rhc] (131,-152) -- (143,-166);
\draw ([xshift=2pt]a8.east) -- (114,-166); \draw (131,-167) -- (138,-172);
\draw[rainc] ([xshift=2pt]a9.east) -- (139,-180);
\draw[rainc] ([xshift=2pt]a10.east) -- (133,-191) -- (150,-178);
\draw[snowc] ([xshift=2pt]a11.east) -- (112,-201); \draw[snowc] (132,-201) -- (160,-172);
\draw[snowc] ([xshift=2pt]a12.east) -- (137,-212) -- (163,-182);
\draw[red] ([xshift=2pt]a13.east) -- (142,-224) -- (146,-220);
\draw ([xshift=2pt]a14.east) -- (135,-263);
\draw[red] ([xshift=2pt]a15.east) -- (117,-334); \draw[red] (130,-333) -- (137,-317);
\draw[red] ([xshift=2pt]a16.east) -- (132,-348) -- (145,-340);
\draw[navy] ([xshift=2pt]a17.east) -- (135,-368);
\draw[navy] ([xshift=2pt]a18.east) -- (138,-409);
\draw[topc] ([xshift=2pt]a19.east) -- (130,-429) -- (183,-448);
\draw ([xshift=2pt]a20.east) -- (127,-468) -- (192,-456);
\draw[c2] ([xshift=2pt]a21.east) -- (143,-481);
\draw[c3] ([xshift=2pt]a22.east) -- (132,-491) -- (150,-492);
\draw[c4] ([xshift=2pt]a23.east) -- (133,-501) -- (143,-498);
\draw[skyd, line width=2.4pt] ([xshift=1pt]a24.east) -- (143,-511);
\draw[white, line width=0.7pt] ([xshift=1pt]a24.east) -- (143,-511);
\draw[visc] ([xshift=2pt]a25.east) -- (123,-527) -- (173,-463);
\draw[skyd, line width=2.4pt] ([xshift=1pt]a26.east) -- (187,-557);
\draw[white, line width=0.7pt] ([xshift=1pt]a26.east) -- (187,-557);
\draw[c3] ([xshift=2pt]a27.east) -- (193,-569);
\draw ([xshift=2pt]a28.east) -- (133,-581);
\draw ([xshift=2pt]a29.east) -- (150,-594);
\draw[fogc] ([xshift=2pt]a30.east) -- (217,-605) -- (218,-590);
\draw ([xshift=2pt]a31.east) -- (148,-622) -- (160,-608);
\end{scope}
\end{scope}
\end{tikzpicture}
\end{document}
